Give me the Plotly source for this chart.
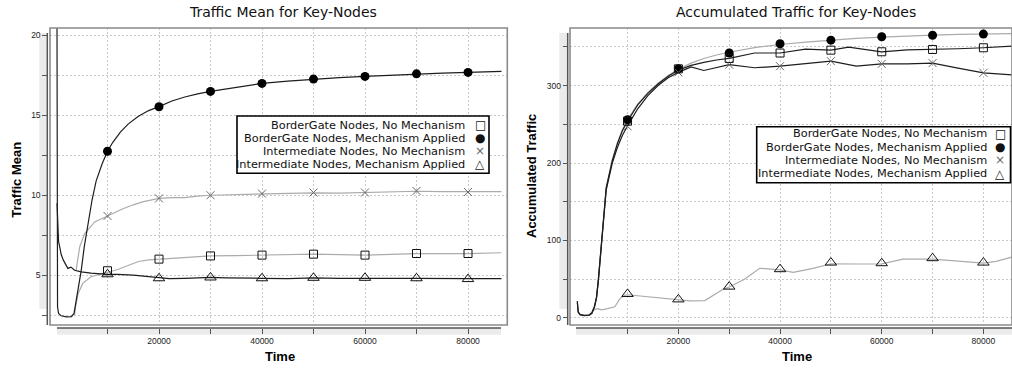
import plotly.graph_objects as go

W, H = 1012, 368


def fx(p):
    return p / W


def fy(p):
    return 1 - p / H


# ---------------- data ----------------
MARK_T = [10000, 20000, 30000, 40000, 50000, 60000, 70000, 80000]

SERIES_NAMES = [
    "BorderGate Nodes, No Mechanism",
    "BorderGate Nodes, Mechanism Applied",
    "Intermediate Nodes, No Mechanism",
    "Intermediate Nodes, Mechanism Applied",
]

# Left chart: Traffic Mean
L_BG_NOMECH_T = [3600, 3800, 4300, 5200, 6800, 10000, 12000, 14000, 16000, 18000, 20000, 22500, 25000,
                 27500, 30000, 35000, 40000, 45000, 50000, 55000, 60000, 65000, 70000, 75000, 80000, 86500]
L_BG_NOMECH_V = [2.5, 3.0, 3.85, 4.48, 4.9, 5.15, 5.35, 5.6, 5.85, 5.95, 6.0, 6.05, 6.12,
                 6.18, 6.2, 6.22, 6.25, 6.28, 6.31, 6.28, 6.25, 6.3, 6.35, 6.35, 6.35, 6.4]
L_BG_NOMECH_M = [5.27, 6.0, 6.2, 6.25, 6.31, 6.25, 6.35, 6.35]

L_BG_MECH_T = [150, 300, 500, 1000, 2000, 3000, 3500, 4000, 4400, 4900, 5500, 6200, 7000, 7800, 9000,
               10000, 11000, 12500, 14000, 16000, 18000, 20000, 22500, 25000, 27500, 30000, 33000, 36000,
               40000, 45000, 50000, 55000, 60000, 65000, 70000, 75000, 80000, 86500]
L_BG_MECH_V = [28, 3.0, 2.6, 2.45, 2.38, 2.4, 2.6, 3.5, 4.4, 5.3, 6.8, 8.2, 9.7, 10.9, 12.0,
               12.75, 13.3, 13.95, 14.45, 14.95, 15.3, 15.55, 15.9, 16.15, 16.35, 16.5, 16.65, 16.8,
               17.0, 17.15, 17.27, 17.36, 17.44, 17.52, 17.6, 17.65, 17.69, 17.75]
L_BG_MECH_M = [12.75, 15.54, 16.5, 17.0, 17.27, 17.44, 17.6, 17.69]

L_IM_NOMECH_T = [3900, 4600, 5570, 7500, 10000, 11500, 13000, 15000, 17000, 20000, 22500, 25000, 27500,
                 30000, 35000, 40000, 45000, 50000, 55000, 60000, 65000, 70000, 75000, 80000, 86500]
L_IM_NOMECH_V = [5.3, 6.77, 7.6, 8.33, 8.7, 8.95, 9.15, 9.4, 9.6, 9.8, 9.85, 9.85, 9.95,
                 10.0, 10.03, 10.1, 10.12, 10.15, 10.13, 10.17, 10.22, 10.25, 10.22, 10.2, 10.22]
L_IM_NOMECH_M = [8.7, 9.8, 10.0, 10.1, 10.17, 10.17, 10.27, 10.2]

L_IM_MECH_T = [200, 500, 700, 1000, 1400, 2300, 2900, 3600, 4900, 6800, 10000, 12000, 15000, 18000,
               20000, 22000, 25000, 28000, 30000, 33000, 36000, 40000, 45000, 50000, 55000, 60000,
               65000, 70000, 75000, 80000, 86500]
L_IM_MECH_V = [9.5, 7.1, 6.8, 6.3, 5.95, 5.42, 5.5, 5.3, 5.2, 5.12, 5.05, 5.05, 5.0, 4.92,
               4.85, 4.78, 4.8, 4.83, 4.86, 4.83, 4.8, 4.8, 4.78, 4.82, 4.8, 4.82,
               4.8, 4.8, 4.77, 4.78, 4.78]
L_IM_MECH_M = [5.05, 4.8, 4.85, 4.8, 4.83, 4.83, 4.8, 4.75]

# Right chart: Accumulated Traffic
R_BG_NOMECH_T = [120, 300, 700, 1500, 2500, 3000, 3500, 3900, 4250, 4700, 5100, 5800, 7000, 8000, 9000,
                 10000, 12000, 14000, 16000, 18000, 20000, 22500, 25000, 27500, 30000, 35000, 40000,
                 45000, 50000, 53500, 57000, 60000, 65000, 70000, 75000, 80000, 85600]
R_BG_NOMECH_V = [22, 8, 4.5, 3.5, 4, 7, 15, 27, 49, 90, 114, 168, 203, 225, 242,
                 254, 275, 290, 302, 312, 320, 326, 330, 333, 335, 342, 342,
                 347, 345.7, 349.5, 346, 343.6, 346, 346.6, 347.5, 348.8, 351]
R_BG_NOMECH_M = [254, 321.6, 335, 342, 345.7, 343.6, 346.6, 348.8]

R_BG_MECH_T = [2500, 3000, 3500, 3900, 4250, 4700, 5100, 5800, 7000, 8000, 9000, 10000, 12000, 14000,
               16000, 18000, 20000, 22500, 25000, 27500, 30000, 35000, 40000, 45000, 50000, 55000,
               60000, 65000, 70000, 75000, 80000, 85600]
R_BG_MECH_V = [5, 7, 15, 27, 49, 90, 114, 168, 204, 226, 243, 256, 276, 291,
               303, 313, 321, 329, 335, 339.5, 343, 349, 353, 356, 358.5, 361,
               362.5, 364, 365, 366, 366.5, 367]
R_BG_MECH_M = [256, 321.6, 342, 354, 358.6, 363, 365, 366.4]

R_IM_NOMECH_T = [120, 300, 700, 1500, 2500, 3000, 3500, 3900, 4250, 4700, 5100, 5800, 7000, 8000, 9000,
                 10000, 12000, 14000, 16000, 18000, 20000, 22500, 25000, 30000, 35000, 40000, 45000,
                 50000, 55000, 60000, 65000, 70000, 75000, 80000, 85600]
R_IM_NOMECH_V = [20, 7, 4, 3, 3.5, 6, 14, 26, 47, 88, 112, 165, 200, 220, 236,
                 248, 270, 287, 300, 310, 317, 324, 319.5, 327, 323, 325, 328,
                 331.5, 325, 328, 328, 329, 322.5, 316.4, 313.8]
R_IM_NOMECH_M = [247.4, 317, 327, 325, 331.5, 328, 329, 316.4]

R_IM_MECH_T = [3270, 4000, 5000, 6000, 7500, 8500, 9500, 10000, 12450, 15000, 18000, 20000, 22300, 25200,
               27000, 28800, 30000, 33000, 36000, 38000, 40000, 42600, 46500, 50000, 52000, 55000,
               60000, 64200, 70000, 75000, 80000, 82500, 85600]
R_IM_MECH_V = [10, 12, 10.5, 12.5, 14.5, 25, 29.5, 30, 28.4, 27, 25.5, 24, 22, 22.4,
               30, 37, 40, 50, 64.2, 63.5, 62, 59, 64, 70, 69.5, 69.7,
               69.8, 75.9, 75.9, 73.5, 70.7, 73, 78.5]
R_IM_MECH_M = [31, 24, 40.5, 63, 71.5, 70.7, 77.2, 71.5]

# ---------------- styles ----------------
DARK = "#1e1e1e"
GRAY = "#ababab"
MARKERS = {
    0: dict(symbol="square-open", size=8, color="#111", line=dict(width=1, color="#111")),
    1: dict(symbol="circle", size=9, color="#000"),
    2: dict(symbol="x-thin-open", size=8, color="#6a6a6a", line=dict(width=1, color="#6a6a6a")),
    3: dict(symbol="triangle-up-open", size=10, color="#111", line=dict(width=1, color="#111")),
}

fig = go.Figure()

left = [
    (L_BG_NOMECH_T, L_BG_NOMECH_V, L_BG_NOMECH_M, GRAY, 0),
    (L_IM_NOMECH_T, L_IM_NOMECH_V, L_IM_NOMECH_M, GRAY, 2),
    (L_IM_MECH_T, L_IM_MECH_V, L_IM_MECH_M, DARK, 3),
    (L_BG_MECH_T, L_BG_MECH_V, L_BG_MECH_M, DARK, 1),
]
right = [
    (R_BG_MECH_T, R_BG_MECH_V, R_BG_MECH_M, GRAY, 1),
    (R_IM_MECH_T, R_IM_MECH_V, R_IM_MECH_M, GRAY, 3),
    (R_IM_NOMECH_T, R_IM_NOMECH_V, R_IM_NOMECH_M, DARK, 2),
    (R_BG_NOMECH_T, R_BG_NOMECH_V, R_BG_NOMECH_M, DARK, 0),
]

for group, xa, ya in [(left, "x", "y"), (right, "x2", "y2")]:
    for t, v, m, col, k in group:
        fig.add_trace(go.Scatter(x=t, y=v, mode="lines", line=dict(color=col, width=1.2),
                                 name=SERIES_NAMES[k], showlegend=False, xaxis=xa, yaxis=ya,
                                 hoverinfo="skip"))
    for t, v, m, col, k in group:
        fig.add_trace(go.Scatter(x=MARK_T, y=m, mode="markers", marker=MARKERS[k],
                                 name=SERIES_NAMES[k], showlegend=False, xaxis=xa, yaxis=ya,
                                 cliponaxis=False))

GRID = "#c8c8c8"
GDASH = "2px,2px"
TICKFONT = dict(family="Liberation Sans", size=8.5, color="#222")


def xaxis_cfg(domain, rng, pos):
    return dict(domain=domain, range=rng, anchor="free", position=pos,
                tickvals=[20000, 40000, 60000, 80000], ticks="outside", ticklen=5, tickcolor="#555",
                showline=False, showgrid=True, gridcolor=GRID, griddash=GDASH, gridwidth=1,
                zeroline=False, tickfont=TICKFONT, tickformat="d",
                minor=dict(tickvals=[10000, 30000, 50000, 70000], ticks="outside", ticklen=5,
                           tickcolor="#555", showgrid=True, gridcolor=GRID, griddash=GDASH, gridwidth=1))


def yaxis_cfg(domain, rng, pos, major, minor):
    return dict(domain=domain, range=rng, anchor="free", position=pos,
                tickvals=major, ticks="outside", ticklen=5, tickcolor="#555",
                showline=False, showgrid=True, gridcolor=GRID, griddash=GDASH, gridwidth=1,
                zeroline=False, tickfont=TICKFONT,
                minor=dict(tickvals=minor, ticks="outside", ticklen=5, tickcolor="#555",
                           showgrid=True, gridcolor=GRID, griddash=GDASH, gridwidth=1))


YDOM = [fy(325), fy(28)]

shapes = []
annotations = []

# bands, axis lines, frames
for (bx0, bx1, by0, by1) in [(39.3, 46.7, 33, 309), (559.3, 567.5, 33, 309),
                             (57, 501, 328, 334.7), (576, 1012, 328, 334.7)]:
    shapes.append(dict(type="rect", xref="paper", yref="paper", x0=fx(bx0), x1=fx(bx1),
                       y0=fy(by1), y1=fy(by0), fillcolor="#ebebeb", line=dict(width=0), layer="below"))
for (x0, y0, x1, y1) in [(47.3, 33, 47.3, 325), (567.7, 33, 567.7, 325),
                         (57, 328, 501, 328), (576, 328, 1012, 328)]:
    shapes.append(dict(type="line", xref="paper", yref="paper", x0=fx(x0), x1=fx(x1),
                       y0=fy(y0), y1=fy(y1), line=dict(color="#555", width=1.5)))
for xr, yr in [("x domain", "y domain"), ("x2 domain", "y2 domain")]:
    shapes.append(dict(type="rect", xref=xr, yref=yr, x0=0, x1=1, y0=0, y1=1,
                       line=dict(color="#8a8a8a", width=1.6)))

# titles
TITLE_FONT = dict(family="DejaVu Sans", size=14, color="#111")
AXIS_FONT = dict(family="Liberation Sans", size=13, color="#000")
annotations += [
    dict(text="Traffic Mean for Key-Nodes", x=fx(283), y=fy(12), font=TITLE_FONT),
    dict(text="Accumulated Traffic for Key-Nodes", x=fx(796), y=fy(12), font=TITLE_FONT),
    dict(text="<b>Time</b>", x=fx(280), y=fy(356), font=AXIS_FONT),
    dict(text="<b>Time</b>", x=fx(796.5), y=fy(356), font=AXIS_FONT),
    dict(text="<b>Traffic Mean</b>", x=fx(16.7), y=fy(180), font=AXIS_FONT, textangle=-90),
    dict(text="<b>Accumulated Traffic</b>", x=fx(531), y=fy(176), font=AXIS_FONT, textangle=-90),
]

# legends (text right-aligned, symbol at the right)
LEG_FONT = dict(family="DejaVu Sans", size=11.3, color="#111")
SYMS = ["□", "●", "×", "△"]
for (bx0, by0, bx1, by1, tx, sx, rows) in [
        (237, 116, 489, 173.3, 466.7, 480, [125, 138, 151, 164]),
        (756.7, 126.7, 1010.5, 182.7, 989.3, 1000, [134, 147.2, 160.4, 173.6])]:
    shapes.append(dict(type="rect", xref="paper", yref="paper", x0=fx(bx0), x1=fx(bx1),
                       y0=fy(by1), y1=fy(by0), fillcolor="white", line=dict(color="#000", width=1.6)))
    for i, ry in enumerate(rows):
        annotations.append(dict(text=SERIES_NAMES[i], x=fx(tx), y=fy(ry), xanchor="right",
                                font=LEG_FONT))
        annotations.append(dict(text=SYMS[i], x=fx(sx), y=fy(ry), xanchor="center",
                                font=dict(family="DejaVu Sans", size=12,
                                          color="#666" if i == 2 else "#111")))

for a in annotations:
    a.setdefault("xref", "paper")
    a.setdefault("yref", "paper")
    a.setdefault("showarrow", False)
    a.setdefault("xanchor", "center")
    a.setdefault("yanchor", "middle")

fig.update_layout(
    width=W, height=H, margin=dict(l=0, r=0, t=0, b=0),
    paper_bgcolor="white", plot_bgcolor="white", showlegend=False,
    xaxis=xaxis_cfg([fx(50), fx(507.3)], [-1165, 87630], fy(328)),
    yaxis=yaxis_cfg(YDOM, [1.875, 20.47], fx(47.3), [5, 10, 15, 20], [2.5, 7.5, 12.5, 17.5]),
    xaxis2=xaxis_cfg([fx(570), 1.0], [-1318, 85625], fy(328)),
    yaxis2=yaxis_cfg(YDOM, [-9.05, 374.3], fx(567.7), [0, 100, 200, 300], [50, 150, 250, 350]),
    shapes=shapes, annotations=annotations,
)

fig.write_html("out.html", config={"displayModeBar": False},
               post_script="document.body.style.margin='0';document.body.style.overflow='hidden';")
